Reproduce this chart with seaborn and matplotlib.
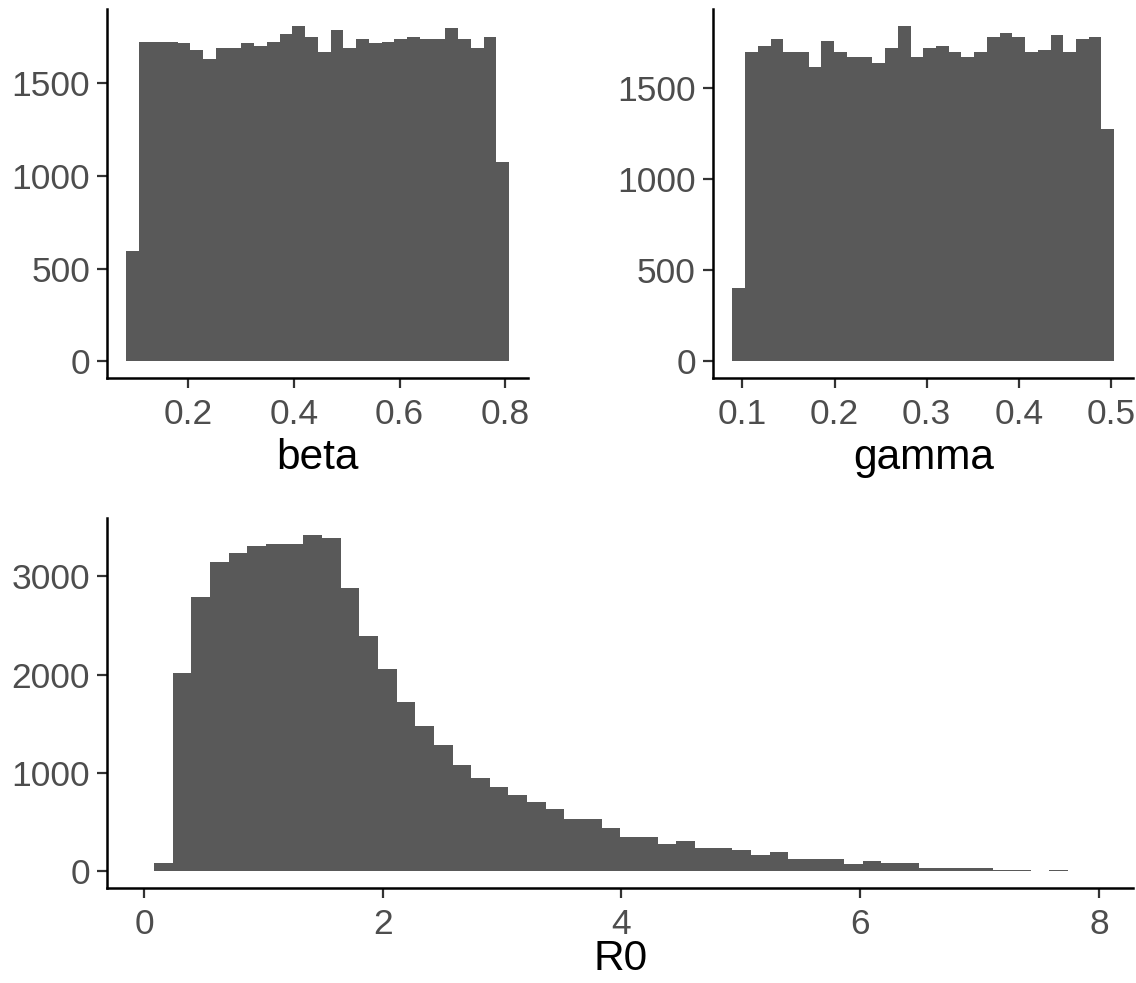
import numpy as np
import pandas as pd
import matplotlib
matplotlib.use("Agg")
import matplotlib.pyplot as plt
import seaborn as sns

# ---------------- data ----------------
beta_range = (0.0827, 0.8076)
beta_counts = [595, 1724, 1724, 1724, 1715, 1679, 1631, 1688, 1688, 1714,
               1701, 1724, 1762, 1807, 1748, 1668, 1784, 1690, 1735, 1715,
               1724, 1737, 1748, 1739, 1739, 1795, 1737, 1690, 1748, 1077]

gamma_range = (0.0891, 0.5036)
gamma_counts = [402, 1698, 1733, 1768, 1698, 1698, 1614, 1757, 1698, 1672,
                1672, 1637, 1722, 1841, 1672, 1722, 1733, 1698, 1672, 1698,
                1780, 1804, 1780, 1698, 1709, 1793, 1698, 1768, 1779, 1278]

r0_range = (0.0841, 7.897)
r0_counts = [85, 2015, 2793, 3146, 3238, 3306, 3327, 3327, 3418, 3394,
             2881, 2392, 2059, 1726, 1481, 1281, 1081, 948, 860, 771,
             703, 635, 527, 527, 440, 350, 350, 282, 306, 241,
             241, 217, 170, 194, 126, 126, 126, 78, 105, 82,
             82, 37, 37, 37, 37, 14, 14, 5, 10, 2]

beta_xticks = [0.2, 0.4, 0.6, 0.8]
gamma_xticks = [0.1, 0.2, 0.3, 0.4, 0.5]
r0_xticks = [0, 2, 4, 6, 8]
top_yticks = [0, 500, 1000, 1500]
r0_yticks = [0, 1000, 2000, 3000]

labels = ["beta", "gamma", "R0"]

# ---------------- style ----------------
sns.set_style("ticks")
plt.rcParams["font.family"] = ["Liberation Sans", "DejaVu Sans"]

FILL = "#595959"
TICK_COLOR = "#4D4D4D"

fig = plt.figure(figsize=(11.36, 9.83), dpi=100)
ax_b = fig.add_axes([0.0945, 0.6152, 0.3706, 0.3753])
ax_g = fig.add_axes([0.6279, 0.6152, 0.3697, 0.3753])
ax_r = fig.add_axes([0.0946, 0.0966, 0.9030, 0.3761])


def draw(ax, rng, counts, xticks, yticks, label, labelpad=5):
    n = len(counts)
    edges = np.linspace(rng[0], rng[1], n + 1)
    centers = (edges[:-1] + edges[1:]) / 2
    df = pd.DataFrame({"value": centers, "count": np.asarray(counts, float)})
    sns.histplot(data=df, x="value", weights="count", bins=edges.tolist(),
                 stat="count", color=FILL, alpha=1, edgecolor="none",
                 linewidth=0, ax=ax)
    ax.use_sticky_edges = False
    ax.margins(x=0.05, y=0.05)
    ax.autoscale_view()
    ax.set_xticks(xticks)
    ax.set_yticks(yticks)
    ax.set_xlabel(label, fontsize=30.5, color="black", labelpad=labelpad)
    ax.set_ylabel("")
    for s in ["top", "right"]:
        ax.spines[s].set_visible(False)
    for s in ["left", "bottom"]:
        ax.spines[s].set_linewidth(1.8)
        ax.spines[s].set_color("black")
    ax.tick_params(axis="both", length=7, width=1.6, color="#333333",
                   labelsize=25.5, labelcolor=TICK_COLOR)
    ax.tick_params(axis="y", pad=5.5)
    ax.tick_params(axis="x", pad=7.5)
    ax.set_facecolor("white")
    ax.grid(False)


draw(ax_b, beta_range, beta_counts, beta_xticks, top_yticks, labels[0])
draw(ax_g, gamma_range, gamma_counts, gamma_xticks, top_yticks, labels[1])
draw(ax_r, r0_range, r0_counts, r0_xticks, r0_yticks, labels[2], labelpad=-1.5)

fig.savefig("out.png", dpi=100, facecolor="white")
